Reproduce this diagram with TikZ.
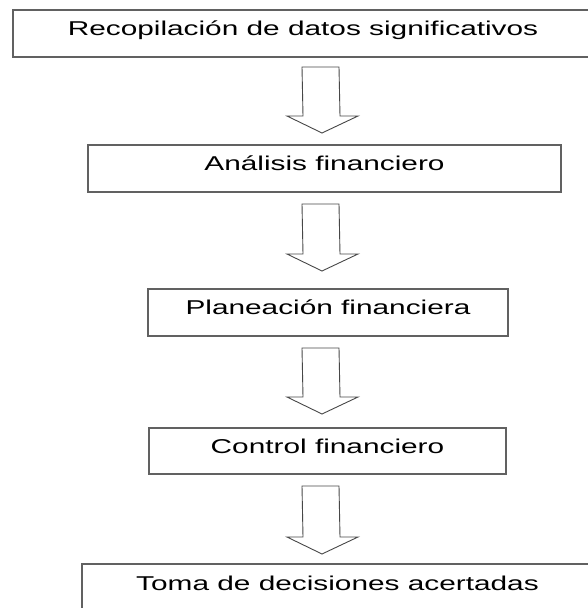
\documentclass[tikz,border=0pt]{standalone}
\usepackage{fontspec}
\setmainfont{Liberation Sans}
\usetikzlibrary{calc}
\newcommand\wide[1]{\scalebox{1.49}[1]{#1}}
\tikzset{
  box/.style={draw=black!62, line width=1.6pt, rectangle, inner sep=0pt, fill=white,
    font=\fontsize{20}{24}\selectfont, text height=12pt, text depth=8pt, align=center},
  blockarrow/.style={draw=black!72, line width=0.9pt, fill=white, line join=miter}
}
\newcommand\bigarrow[2]{%
  \draw[blockarrow] ($(#1)+(-19,0)$) -- ($(#1)+(18,0)$) -- ($(#2)+(18,-17)$) -- ($(#2)+(36,-17)$)
    -- (#2) -- ($(#2)+(-35,-17)$) -- ($(#2)+(-19,-17)$) -- cycle;}
\begin{document}
\begin{tikzpicture}[x=1pt,y=-1pt]
\useasboundingbox[fill=white] (0,0) rectangle (587,608);
\node[box, minimum width=580pt, minimum height=47pt] (b1) at (303,33.5) {\wide{Recopilación de datos significativos}};
\node[box, minimum width=473pt, minimum height=47pt] (b2) at (324.5,168.5) {\wide{Análisis financiero}};
\node[box, minimum width=360pt, minimum height=47pt] (b3) at (328,312.5) {\wide{Planeación financiera}};
\node[box, minimum width=357pt, minimum height=46pt] (b4) at (327.5,451) {\wide{Control financiero}};
\node[box, minimum width=511pt, minimum height=48pt] (b5) at (337.5,588) {\wide{Toma de decisiones acertadas}};
\coordinate (a1t) at (321,67);  \coordinate (a1b) at (322,133);
\coordinate (a2t) at (321,204); \coordinate (a2b) at (322,271);
\coordinate (a3t) at (321,348); \coordinate (a3b) at (322,414);
\coordinate (a4t) at (321,486); \coordinate (a4b) at (322,554);
\bigarrow{a1t}{a1b}
\bigarrow{a2t}{a2b}
\bigarrow{a3t}{a3b}
\bigarrow{a4t}{a4b}
\end{tikzpicture}
\end{document}
